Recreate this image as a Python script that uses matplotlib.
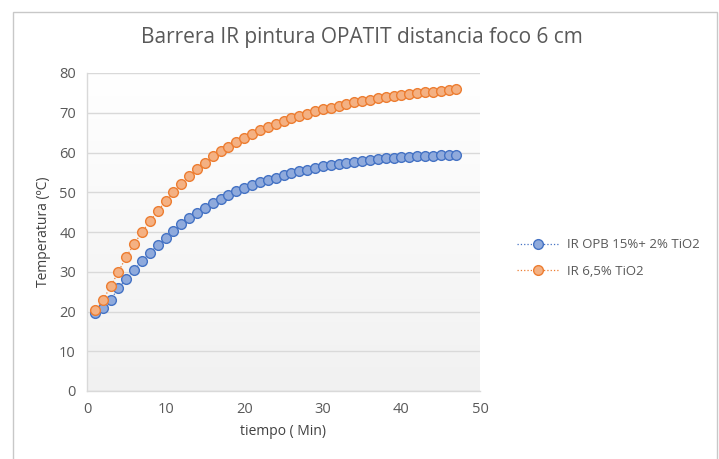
import numpy as np
import matplotlib.pyplot as plt
from matplotlib.patches import Rectangle

# tiempo (Min)
tiempo = list(range(1, 48))

# IR OPB 15%+ 2% TiO2
ir_opb = [19.7, 21.0, 23.0, 25.8, 28.2, 30.5, 32.7, 34.8, 36.8, 38.5,
          40.2, 41.9, 43.4, 44.7, 46.0, 47.2, 48.3, 49.3, 50.2, 51.0,
          51.8, 52.5, 53.1, 53.7, 54.3, 54.8, 55.3, 55.7, 56.1, 56.5,
          56.8, 57.1, 57.4, 57.7, 57.9, 58.1, 58.3, 58.5, 58.6, 58.8,
          58.9, 59.0, 59.1, 59.2, 59.3, 59.4, 59.4]

# IR 6,5% TiO2
ir_65 = [20.5, 22.8, 26.3, 30.0, 33.8, 37.0, 40.0, 42.7, 45.3, 47.7,
         50.0, 52.1, 54.0, 55.8, 57.4, 59.0, 60.3, 61.5, 62.7, 63.7,
         64.7, 65.6, 66.4, 67.2, 68.0, 68.6, 69.2, 69.8, 70.4, 70.9,
         71.3, 71.8, 72.2, 72.6, 73.0, 73.3, 73.6, 73.9, 74.2, 74.4,
         74.7, 74.9, 75.1, 75.3, 75.5, 75.7, 75.9]

labels = ['IR OPB 15%+ 2% TiO2', 'IR 6,5% TiO2']
title = 'Barrera IR pintura OPATIT distancia foco 6 cm'

gray_txt = '#595959'
grid_col = '#d9d9d9'

plt.rcParams['font.family'] = ['Open Sans', 'DejaVu Sans']

fig = plt.figure(figsize=(7.19, 4.59), dpi=100)
fig.patch.set_facecolor('white')

# outer chart frame (bottom edge is cut off in the reference)
fig.add_artist(Rectangle((13 / 719, -10 / 459), 704 / 719, 457 / 459,
                         transform=fig.transFigure, fill=False,
                         edgecolor='#c8c8c8', linewidth=1.0))

ax = fig.add_axes([87 / 719, 68 / 459, 393 / 719, 318 / 459])

# plot area: white at top fading to light gray at the bottom
t = np.linspace(1, 0, 256).reshape(-1, 1, 1)
top = np.array([1.0, 1.0, 1.0])
bot = np.array([0.945, 0.945, 0.945])
rgb = bot * (1 - t) + top * t
ax.imshow(rgb, extent=[0, 50, 0, 80], aspect='auto', zorder=0, origin='upper')

ax.plot(tiempo, ir_opb, linestyle=':', linewidth=0.9, color='#4472C4',
        marker='o', markersize=7, markerfacecolor='#8faadc',
        markeredgecolor='#4472C4', markeredgewidth=1.0, label=labels[0], zorder=3)
ax.plot(tiempo, ir_65, linestyle=':', linewidth=0.9, color='#ED7D31',
        marker='o', markersize=7, markerfacecolor='#f4b183',
        markeredgecolor='#ED7D31', markeredgewidth=1.0, label=labels[1], zorder=3)

ax.set_xlim(0, 50)
ax.set_ylim(0, 80)
ax.set_xticks(range(0, 51, 10))
ax.set_yticks(range(0, 81, 10))
ax.yaxis.grid(True, color=grid_col, linewidth=1.0, zorder=1)
ax.set_axisbelow(True)
ax.tick_params(length=0, labelsize=10.5, colors=gray_txt, pad=8)
for s in ['top', 'right']:
    ax.spines[s].set_visible(False)
for s in ['left', 'bottom']:
    ax.spines[s].set_color(grid_col)
    ax.spines[s].set_linewidth(1.0)

ax.set_xlabel('tiempo ( Min)', fontsize=10, color='#404040', labelpad=5)
ax.set_ylabel('Temperatura (ºC)', fontsize=10, color='#404040', labelpad=6)

fig.text(362 / 719, 1 - 38 / 459, title, ha='center', va='center',
         fontsize=15, color=gray_txt)

fig.legend(loc='center left', bbox_to_anchor=(505 / 719, 1 - 258 / 459),
           frameon=False, fontsize=9.5, labelcolor=gray_txt,
           handlelength=3.2, labelspacing=1.0, handletextpad=0.6)

fig.savefig('out.png', dpi=100)
